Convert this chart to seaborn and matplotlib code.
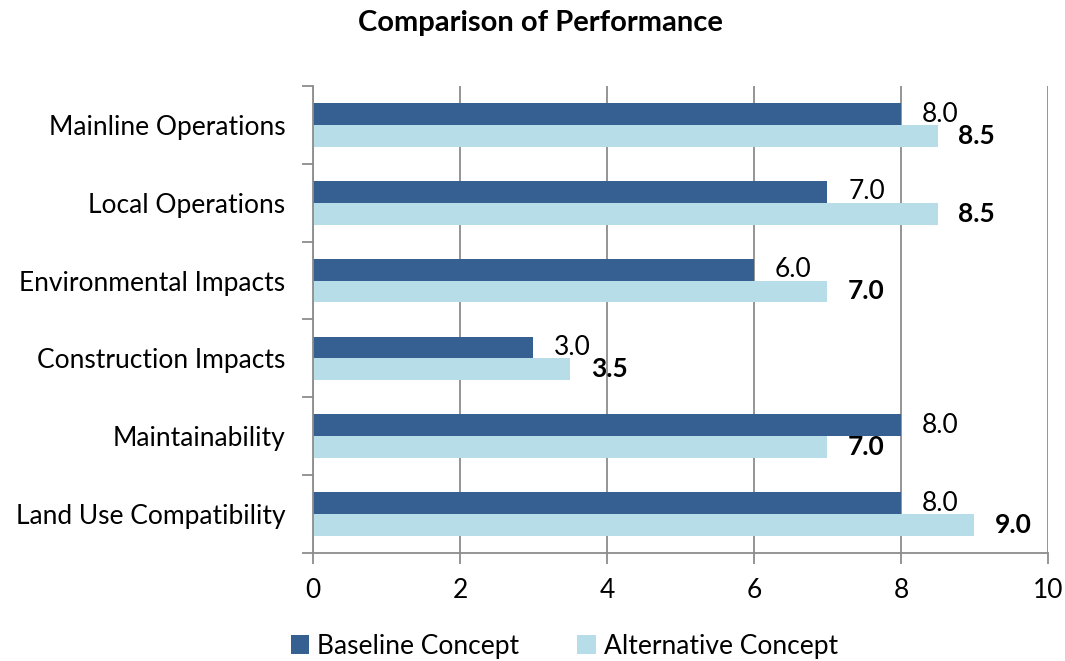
import pandas as pd
import numpy as np
import seaborn as sns
import matplotlib.pyplot as plt
from matplotlib.patches import Patch

categories = ['Mainline Operations', 'Local Operations', 'Environmental Impacts',
              'Construction Impacts', 'Maintainability', 'Land Use Compatibility']
baseline = [8.0, 7.0, 6.0, 3.0, 8.0, 8.0]
alternative = [8.5, 8.5, 7.0, 3.5, 7.0, 9.0]
series = ['Baseline Concept', 'Alternative Concept']
colors = ['#366092', '#B7DDE8']

df = pd.DataFrame({'category': categories * 2,
                   'score': baseline + alternative,
                   'series': [series[0]] * 6 + [series[1]] * 6})

sns.set_style('white')
plt.rcParams['font.family'] = ['Lato', 'DejaVu Sans']
plt.rcParams['text.color'] = 'black'
plt.rcParams['xtick.color'] = 'black'
plt.rcParams['ytick.color'] = 'black'

fig = plt.figure(figsize=(10.65, 6.61), dpi=100)
ax = fig.add_axes([0.2939, 0.1634, 0.690, 0.7065])

sns.barplot(data=df, y='category', x='score', hue='series', palette=colors,
            orient='h', width=0.56, gap=0, saturation=1, legend=False,
            linewidth=0, ax=ax)

# data labels
for i, cont in enumerate(ax.containers):
    ax.bar_label(cont, fmt='%.1f', padding=15, fontsize=19, color='black',
                 fontweight='bold' if i == 1 else 'normal')

ax.set_xlim(0, 10)
ax.set_ylim(5.5, -0.5)
ax.set_xticks(np.arange(0, 11, 2))
ax.set_xlabel('')
ax.set_ylabel('')
ax.xaxis.grid(True, color='#8c8c8c', linewidth=1.3)
ax.set_axisbelow(True)

for s in ['top', 'right']:
    ax.spines[s].set_visible(False)
for s in ['left', 'bottom']:
    ax.spines[s].set_color('#8c8c8c')
    ax.spines[s].set_linewidth(1.3)

# ticks on the category boundaries
ax.set_yticks(np.arange(-0.5, 6, 1), minor=True)
ax.tick_params(axis='y', which='major', length=0, pad=20, labelsize=19,
               labelcolor='black')
ax.tick_params(axis='y', which='minor', length=8, width=1.3, color='#8c8c8c', left=True)
ax.tick_params(axis='x', which='major', length=8, width=1.3, color='#8c8c8c',
               bottom=True, pad=10, labelsize=19, labelcolor='black')

fig.text(0.507, 0.965, 'Comparison of Performance', ha='center', va='center',
         fontsize=21, fontweight='bold', color='black')

handles = [Patch(facecolor=c, label=l, linewidth=0) for c, l in zip(colors, series)]
fig.legend(handles=handles, loc='center', bbox_to_anchor=(0.53, 0.022), ncol=2,
           frameon=False, fontsize=19, handlelength=0.7, handleheight=0.7,
           handletextpad=0.3, columnspacing=2.2)

fig.savefig('out.png', dpi=100)
